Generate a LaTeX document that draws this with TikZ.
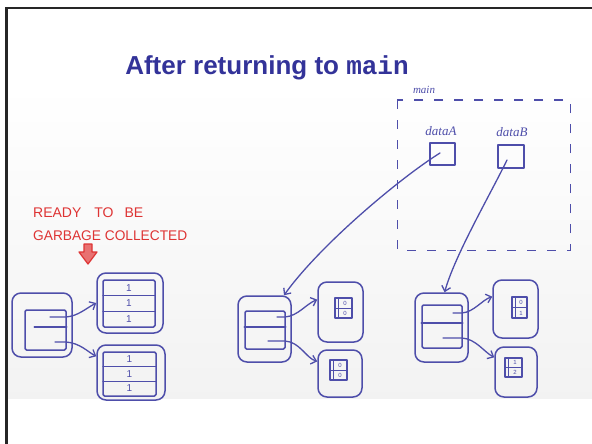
\documentclass[tikz,border=0pt]{standalone}
\usepackage{fontspec}
\setmainfont{Liberation Sans}
\newfontfamily\titlemono{Liberation Mono}
\newfontfamily\handfont{Liberation Serif}
\usetikzlibrary{arrows.meta}

\definecolor{titleblue}{RGB}{51,51,153}
\definecolor{pen}{RGB}{78,78,170}
\definecolor{redpen}{RGB}{222,52,52}

\tikzset{
  ink/.style={draw=pen, line width=1.5pt, line cap=round, line join=round},
  outerbox/.style={ink, rounded corners=9pt, inner sep=0pt},
  innerbox/.style={ink, rounded corners=1.5pt, inner sep=0pt},
  cellbox/.style={ink, line width=1.1pt, inner sep=0pt},
  ptr/.style={ink, line width=1.3pt, -{Straight Barb[length=5pt,width=9pt]}},
  digit/.style={text=pen, font=\fontsize{10}{10}\selectfont, inner sep=0pt},
  tinydigit/.style={text=pen, font=\fontsize{6}{6}\selectfont, inner sep=0pt},
  hand/.style={text=pen, font=\handfont\itshape\fontsize{13}{13}\selectfont, inner sep=0pt},
  redhand/.style={text=redpen, font=\fontsize{14}{14}\selectfont, inner sep=0pt, anchor=base west},
}

\begin{document}
\begin{tikzpicture}[x=1pt,y=-1pt]
  \useasboundingbox (0,0) rectangle (592,444);
  \fill[white] (0,0) rectangle (592,444);

  % whiteboard area
  \shade[top color=white, bottom color=black!5] (8,85) rectangle (592,398);

  % slide frame
  \draw[line width=2.5pt, black!85] (6.5,444) -- (6.5,8) -- (592,8);

  % title
  \node[anchor=base, text=titleblue, inner sep=0pt,
        font=\fontsize{26}{26}\selectfont\bfseries] (title) at (267,75)
        {After returning to {\titlemono\bfseries main}};

  % ---------- main's stack frame ----------
  \draw[draw=pen, line width=1pt, dash pattern=on 9pt off 11pt]
        (397,100) rectangle (570,250);
  \node[hand, font=\handfont\itshape\fontsize{11}{11}\selectfont] (mainlbl) at (424,90) {main};
  \node[hand] (dataAlbl) at (441,131) {dataA};
  \node[hand] (dataBlbl) at (512,132) {dataB};
  \node[cellbox, line width=1.4pt, minimum width=25pt, minimum height=22pt] (va) at (442.5,154) {};
  \node[cellbox, line width=1.4pt, minimum width=26pt, minimum height=23pt] (vb) at (511,156.5) {};
  \coordinate (pa) at (440,153);
  \coordinate (pb) at (507,160);

  % ---------- unreachable object (left) ----------
  \node[redhand] (ready1) at (33,217) {READY\hspace{13pt}TO\hspace{11pt}BE};
  \node[redhand] (ready2) at (33,240) {\scalebox{0.98}[1]{GARBAGE COLLECTED}};
  \draw[redpen, line width=1.2pt, fill=redpen!70, line join=round]
        (84,244) -- (92,244) -- (92,252) -- (97,252) -- (88,264) -- (79,252) -- (84,252) -- cycle;

  \node[outerbox, minimum width=60pt, minimum height=64pt] (lobj) at (42,325) {};
  \node[innerbox, minimum width=41pt, minimum height=40pt] (lin) at (45.5,330) {};
  \draw[ink] ([xshift=10pt,yshift=3pt]lin.west) -- ([yshift=3pt]lin.east);

  \node[outerbox, minimum width=66pt, minimum height=60pt] (la) at (130,303) {};
  \node[innerbox, minimum width=52pt, minimum height=47pt] (lain) at (129,303.5) {};
  \draw[ink] (103,295.7) -- (155,295.7) (103,311.3) -- (155,311.3);
  \node[digit] (la1) at (129,288) {1};
  \node[digit] (la2) at (129,303.5) {1};
  \node[digit] (la3) at (129,319) {1};

  \node[outerbox, minimum width=68pt, minimum height=55pt] (lb) at (131,372.5) {};
  \node[innerbox, minimum width=53pt, minimum height=44pt] (lbin) at (129.5,374) {};
  \draw[ink] (103,366.7) -- (156,366.7) (103,381.3) -- (156,381.3);
  \node[digit] (lb1) at (129.5,359.5) {1};
  \node[digit] (lb2) at (129.5,374) {1};
  \node[digit] (lb3) at (129.5,388.5) {1};

  \coordinate (lp1) at (50,317);
  \coordinate (lp2) at (55,342);
  \draw[ptr] (lp1) -- (66,317) .. controls (78,316) and (85,309) .. (la.west);
  \draw[ptr] (lp2) -- (66,342) .. controls (80,343) and (88,352) .. (lb.155);

  % ---------- dataA's object (middle) ----------
  \node[outerbox, minimum width=53pt, minimum height=66pt] (mobj) at (264.5,329) {};
  \node[innerbox, minimum width=40pt, minimum height=38pt] (min) at (265,330) {};
  \draw[ink] ([yshift=3pt]min.west) -- ([yshift=3pt]min.east);

  \node[outerbox, minimum width=45pt, minimum height=60pt] (ma) at (340.5,312) {};
  \node[cellbox, minimum width=17pt, minimum height=20pt] (macell) at (343.5,308) {};
  \draw[ink, line width=0.9pt] (338,298) -- (338,318) (335,308) -- (352,308);
  \node[tinydigit] (ma1) at (345,303) {0};
  \node[tinydigit] (ma2) at (345,313) {0};

  \node[outerbox, minimum width=44pt, minimum height=47pt] (mb) at (340,373.5) {};
  \node[cellbox, minimum width=17pt, minimum height=20pt] (mbcell) at (338.5,370) {};
  \draw[ink, line width=0.9pt] (333,360) -- (333,380) (330,370) -- (347,370);
  \node[tinydigit] (mb1) at (340,365) {0};
  \node[tinydigit] (mb2) at (340,375) {0};

  \coordinate (mp1) at (277,317);
  \coordinate (mp2) at (268,341);
  \draw[ptr] (mp1) -- (285,317) .. controls (298,316) and (306,304) .. (ma.152);
  \draw[ptr] (mp2) -- (285,341) .. controls (300,342) and (306,358) .. (mb.152);

  % ---------- dataB's object (right) ----------
  \node[outerbox, minimum width=53pt, minimum height=69pt] (robj) at (441.5,327.5) {};
  \node[innerbox, minimum width=40pt, minimum height=43pt] (rin) at (442,326.5) {};
  \draw[ink] ([yshift=3.5pt]rin.west) -- ([yshift=3.5pt]rin.east);

  \node[outerbox, minimum width=45pt, minimum height=58pt] (ra) at (515.5,309) {};
  \node[cellbox, minimum width=15pt, minimum height=21pt] (racell) at (519.5,307.5) {};
  \draw[ink, line width=0.9pt] (515,297) -- (515,318) (512,307.5) -- (527,307.5);
  \node[tinydigit] (ra1) at (521,302) {0};
  \node[tinydigit] (ra2) at (521,313) {1};

  \node[outerbox, minimum width=42pt, minimum height=50pt] (rb) at (516,372) {};
  \node[cellbox, minimum width=17pt, minimum height=19pt] (rbcell) at (513.5,367.5) {};
  \draw[ink, line width=0.9pt] (508,358) -- (508,377) (505,367.5) -- (522,367.5);
  \node[tinydigit] (rb1) at (515,362.5) {1};
  \node[tinydigit] (rb2) at (515,372.5) {2};

  \coordinate (rp1) at (453,313);
  \coordinate (rp2) at (443,338);
  \draw[ptr] (rp1) -- (462,313) .. controls (474,312) and (482,300) .. (ra.152);
  \draw[ptr] (rp2) -- (462,338) .. controls (476,339) and (484,352) .. (rb.146);

  % ---------- references held by main ----------
  \draw[ptr] (pa) .. controls (400,178) and (320,245) .. (mobj.60);
  \draw[ptr] (pb) .. controls (490,195) and (455,255) .. (robj.85);
\end{tikzpicture}
\end{document}
